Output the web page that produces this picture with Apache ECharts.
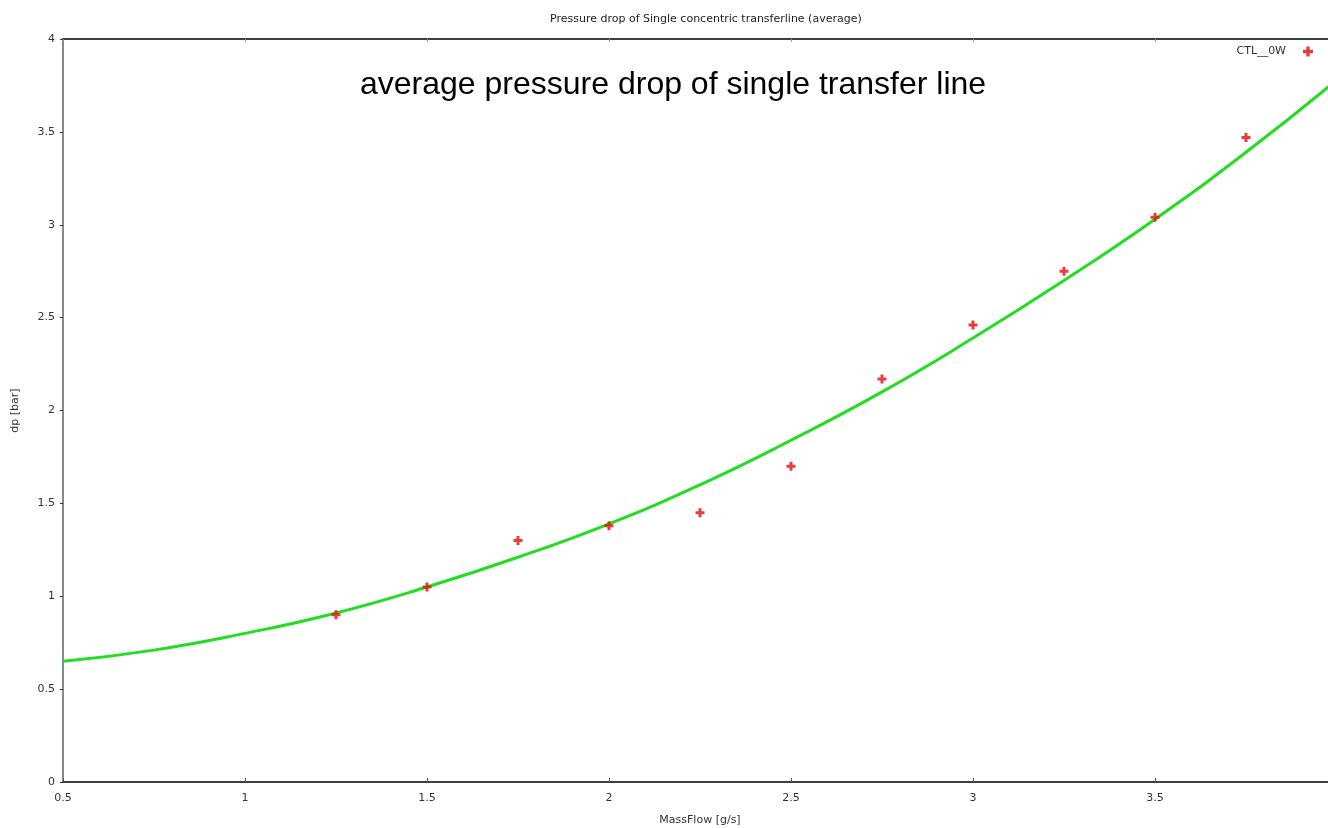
<!DOCTYPE html>
<html>
<head>
<meta charset="utf-8">
<script src="https://cdn.jsdelivr.net/npm/echarts@6/dist/echarts.min.js"></script>
<style>
html,body{margin:0;padding:0;background:#fff;}
#chart{width:1328px;height:828px;}
</style>
</head>
<body>
<div id="chart"></div>
<script>
// Measured points (CTL__0W)
const massFlow = [1.25, 1.5, 1.75, 2.0, 2.25, 2.5, 2.75, 3.0, 3.25, 3.5, 3.75];
const dp = [0.90, 1.05, 1.30, 1.38, 1.45, 1.70, 2.17, 2.46, 2.75, 3.04, 3.47];
// Fitted curve
const fitX = [0.5, 0.75, 1.0, 1.25, 1.5, 1.75, 2.0, 2.25, 2.5, 2.75, 3.0, 3.25, 3.5, 3.75, 4.0];
const fitY = [0.65, 0.71, 0.80, 0.91, 1.05, 1.21, 1.39, 1.60, 1.84, 2.10, 2.39, 2.70, 3.03, 3.39, 3.78];

const titleText = 'Pressure drop of Single concentric transferline (average)';
const noteText = 'average pressure drop of single transfer line';
const legendName = 'CTL__0W';

const crossPath = 'path://M3,0H6V3H9V6H6V9H3V6H0V3H3Z';

const chart = echarts.init(document.getElementById('chart'));
chart.setOption({
  animation: false,
  backgroundColor: '#ffffff',
  title: {
    text: titleText,
    left: 545,
    top: 9,
    textStyle: {fontFamily: 'DejaVu Sans', fontSize: 11, fontWeight: 'normal', color: '#222'}
  },
  legend: {
    right: 10,
    top: 41,
    align: 'right',
    itemWidth: 10,
    itemHeight: 10,
    itemGap: 5,
    textStyle: {fontFamily: 'DejaVu Sans', fontSize: 11, color: '#333', padding: [0, 12, 0, 0]},
    data: [{name: legendName, icon: crossPath}]
  },
  graphic: [{
    type: 'text',
    left: 360,
    top: 69,
    style: {text: noteText, font: '32px "Liberation Sans", Arial, sans-serif', fill: '#000'}
  }],
  grid: {left: 63, right: -9, top: 39, bottom: 46, outerBoundsMode: 'none'},
  xAxis: [{
    type: 'value',
    min: 0.5, max: 4, interval: 0.5,
    name: 'MassFlow [g/s]',
    nameLocation: 'middle',
    nameGap: 33,
    nameTextStyle: {fontFamily: 'DejaVu Sans', fontSize: 11, color: '#333'},
    axisLine: {show: true, lineStyle: {color: '#000', width: 1.5}},
    axisTick: {show: true, inside: true, length: 4, lineStyle: {color: '#555'}},
    axisLabel: {fontFamily: 'DejaVu Sans', fontSize: 11, color: '#333', margin: 11},
    splitLine: {show: false}
  }, {
    type: 'value',
    position: 'top',
    min: 0.5, max: 4, interval: 0.5,
    axisLine: {show: true, lineStyle: {color: '#000', width: 1.5}},
    axisTick: {show: true, inside: true, length: 3, lineStyle: {color: '#999'}},
    axisLabel: {show: false},
    splitLine: {show: false}
  }],
  yAxis: {
    type: 'value',
    min: 0, max: 4, interval: 0.5,
    name: 'dp [bar]',
    nameLocation: 'middle',
    nameGap: 42,
    nameTextStyle: {fontFamily: 'DejaVu Sans', fontSize: 11, color: '#333'},
    axisLine: {show: true, lineStyle: {color: '#888', width: 2}},
    axisTick: {show: true, length: 3, lineStyle: {color: '#333'}},
    axisLabel: {fontFamily: 'DejaVu Sans', fontSize: 11, color: '#333', margin: 8},
    splitLine: {show: false}
  },
  series: [{
    name: 'fit',
    type: 'line',
    smooth: true,
    showSymbol: false,
    data: fitX.map((x, i) => [x, fitY[i]]),
    lineStyle: {color: '#22dd22', width: 3},
    itemStyle: {color: '#22dd22'},
    z: 2
  }, {
    name: legendName,
    type: 'scatter',
    symbol: crossPath,
    symbolSize: 9,
    data: massFlow.map((x, i) => [x, dp[i]]),
    itemStyle: {color: '#dd0f0f'},
    z: 3
  }]
});
</script>
</body>
</html>
